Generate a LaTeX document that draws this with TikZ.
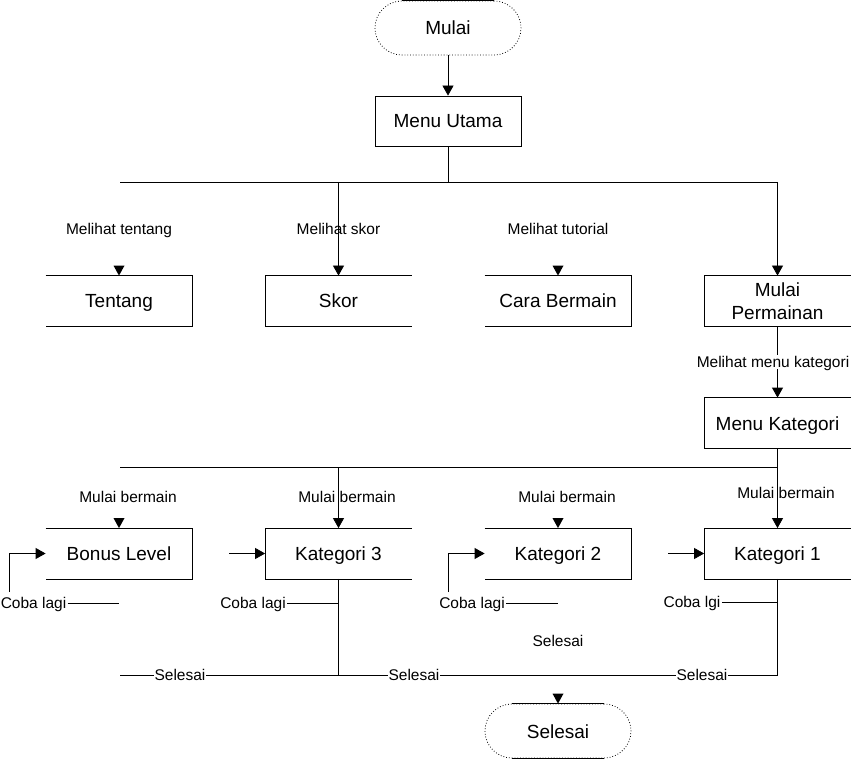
\documentclass[tikz,border=0pt]{standalone}
\usepackage{fontspec}
\setmainfont{Liberation Sans}
\usetikzlibrary{arrows.meta}
\begin{document}
\begin{tikzpicture}[x=1pt,y=-1pt,
  line width=0.8pt,
  boxtext/.style={font=\fontsize{19}{23}\selectfont, align=center},
  pbox/.style={boxtext, rectangle, minimum width=146pt, minimum height=50pt, inner sep=0pt},
  sline/.style={text height=14pt, text depth=0pt},
  term/.style={pbox, sline, minimum height=54pt, draw, dotted, rounded corners=27pt},
  lbl/.style={font=\fontsize{15.5}{18}\selectfont, inner sep=1pt, text height=12pt, text depth=0.5pt},
  wlbl/.style={lbl, fill=white},
  arr/.style={-{Triangle[width=11pt,length=10pt]}},
]
\useasboundingbox (0,0) rectangle (857,759);

% terminals and boxes
\node[term] (mulai) at (448,28) {Mulai};
\draw ([xshift=27pt]mulai.north west) -- ([xshift=-27pt]mulai.north east);
\node[pbox, sline, draw] (menu) at (448,121) {Menu Utama};

\node[pbox, sline] (tentang) at (119,301) {Tentang};
\node[pbox, sline] (skor) at (338.5,301) {Skor};
\node[pbox, sline] (cara) at (558,301) {Cara Bermain};
\node[pbox] (mp) at (777.5,301) {Mulai\\Permainan};
\node[pbox, sline] (mk) at (777.5,423) {Menu Kategori};

\node[pbox, sline] (bonus) at (119,553.5) {Bonus Level};
\node[pbox, sline] (kat3) at (338.5,553.5) {Kategori 3};
\node[pbox, sline] (kat2) at (558,553.5) {Kategori 2};
\node[pbox, sline] (kat1) at (777.5,553.5) {Kategori 1};

\node[term] (sel) at (558,731) {Selesai};
\draw ([xshift=27pt]sel.north west) -- ([xshift=-27pt]sel.north east);
\draw ([xshift=27pt]sel.south west) -- ([xshift=-27pt]sel.south east);

% partial box outlines
\foreach \n in {tentang,cara,bonus,kat2}
  \draw (\n.north west) -- (\n.north east) -- (\n.south east) -- (\n.south west);
\foreach \n in {skor,mp,mk,kat3,kat1}
  \draw (\n.north east) -- (\n.north west) -- (\n.south west) -- (\n.south east);

% top branch
\draw[arr] (mulai) -- (menu);
\coordinate (j1) at (448,182);
\coordinate (h1l) at (120,182);
\coordinate (h1r) at (777.5,182);
\draw (menu.south) -- (j1);
\draw (h1l) -- (h1r);
\draw[arr] (skor.north |- h1l) -- (skor.north);
\draw[arr] (h1r) -- (mp.north);
\fill (tentang.north) -- ++(-5.5,-10) -- ++(11,0) -- cycle;
\fill (cara.north) -- ++(-5.5,-10) -- ++(11,0) -- cycle;

\node[lbl] (l1) at (119,229) {Melihat tentang};
\node[lbl] (l2) at (338.5,229) {Melihat skor};
\node[lbl] (l3) at (558,229) {Melihat tutorial};

\draw[arr] (mp.south) -- (mk.north) node[midway, wlbl, xshift=-4.5pt] (l4) {Melihat menu kategori};

% second branch
\coordinate (h2l) at (120,467);
\coordinate (h2r) at (777.5,467);
\draw (mk.south) -- (h2r);
\draw (h2l) -- (h2r);
\draw[arr] (h2r) -- (kat1.north);
\draw[arr] (kat3.north |- h2l) -- (kat3.north);
\fill (bonus.north) -- ++(-5.5,-10) -- ++(11,0) -- cycle;
\fill (kat2.north) -- ++(-5.5,-10) -- ++(11,0) -- cycle;

\node[lbl] (m1) at (128,497) {Mulai bermain};
\node[lbl] (m2) at (347,497) {Mulai bermain};
\node[lbl] (m3) at (567,497) {Mulai bermain};
\node[lbl] (m4) at (786,493) {Mulai bermain};

% retry loops
\node[lbl] (cl1) at (33.5,603) {Coba lagi};
\coordinate (cl1e) at (119,603);
\draw (cl1.east) -- (cl1e);
\coordinate (cl1s) at (9,592);
\draw[arr] (cl1s) |- (bonus.west);

\coordinate (a3) at (229,553.5);
\draw[arr] (a3) -- (kat3.west);
\node[lbl] (cl3) at (253,603) {Coba lagi};
\draw (cl3.east) -- (cl3.east -| kat3.south);

\node[lbl] (cl2) at (472,603) {Coba lagi};
\coordinate (cl2e) at (558,603);
\draw (cl2.east) -- (cl2e);
\coordinate (cl2s) at (448,592);
\draw[arr] (cl2s) |- (kat2.west);

\coordinate (a1) at (668,553.5);
\draw[arr] (a1) -- (kat1.west);
\node[lbl] (cl4) at (692,602) {Coba lgi};
\draw (cl4.east) -- (cl4.east -| kat1.south);

% finish line
\coordinate (b3) at (338.5,675);
\coordinate (b1) at (777.5,675);
\coordinate (bl) at (120,675);
\draw (kat3.south) -- (b3);
\draw (kat1.south) -- (b1) -- (bl);
\node[wlbl] (s1) at (180,675) {Selesai};
\node[wlbl] (s2) at (414,675) {Selesai};
\node[wlbl] (s3) at (702,675) {Selesai};
\node[lbl] (s4) at (558,641) {Selesai};
\fill (sel.north) -- ++(-5.5,-10) -- ++(11,0) -- cycle;
\end{tikzpicture}
\end{document}
